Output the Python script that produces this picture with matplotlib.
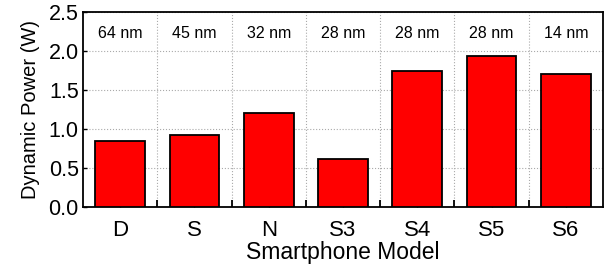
import matplotlib
matplotlib.use('Agg')
import matplotlib.pyplot as plt
import numpy as np

plt.rcParams['font.family'] = ['Liberation Sans', 'DejaVu Sans']

models = ['D', 'S', 'N', 'S3', 'S4', 'S5', 'S6']
nodes = ['64 nm', '45 nm', '32 nm', '28 nm', '28 nm', '28 nm', '14 nm']
power = [0.85, 0.92, 1.20, 0.61, 1.75, 1.93, 1.71]

fig = plt.figure(figsize=(6.08, 2.71), dpi=100)
ax = fig.add_axes([83 / 608, 1 - 207 / 271, 520 / 608, 195 / 271])

x = np.arange(len(models))
ax.bar(x, power, width=0.67, color='#ff0000', edgecolor='black', linewidth=1.3, zorder=3)

# process node labels along the top
for xi, lab in zip(x, nodes):
    ax.text(xi, 2.23, lab, ha='center', va='center', fontsize=11.5)

ax.set_xlim(-0.5, len(models) - 0.5)
ax.set_ylim(0, 2.5)
ax.set_xticks(x)
ax.set_xticklabels(models, fontsize=16)
ax.set_xticks(x[:-1] + 0.5, minor=True)
ax.tick_params(axis='x', which='major', direction='in', length=3, width=1, pad=9)
ax.tick_params(axis='x', which='minor', direction='in', length=5, width=1.3)
ax.set_yticks([0, 0.5, 1.0, 1.5, 2.0, 2.5])
ax.set_yticklabels(['0.0', '0.5', '1.0', '1.5', '2.0', '2.5'], fontsize=15.5)
ax.tick_params(axis='y', direction='in', length=3, width=1, pad=3)

ax.grid(axis='y', which='major', color='#aaaaaa', linestyle=':', linewidth=0.8, zorder=0)
ax.grid(axis='x', which='minor', color='#aaaaaa', linestyle=':', linewidth=0.8, zorder=0)
ax.grid(axis='x', which='major', visible=False)

for s in ax.spines.values():
    s.set_linewidth(1.3)

ax.set_xlabel('Smartphone Model', fontsize=16.5, labelpad=0)
ax.set_ylabel('Dynamic Power (W)', fontsize=14.5, labelpad=6)

fig.savefig('out.png', dpi=100, facecolor='white')
